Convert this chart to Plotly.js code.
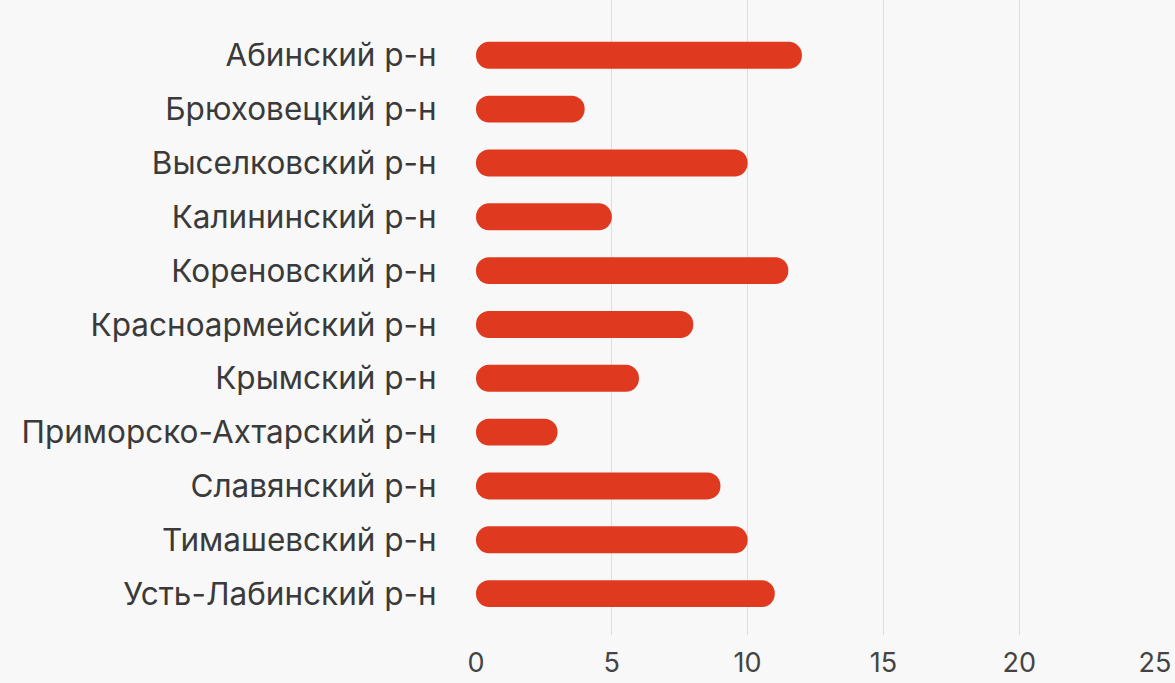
<!DOCTYPE html>
<html>
<head>
<meta charset="utf-8">
<script src="https://cdn.plot.ly/plotly-3.0.1.min.js"></script>
<style>html,body{margin:0;padding:0;background:#f8f8f8;}#chart{width:1175px;height:683px;}</style>
</head>
<body>
<div id="chart"></div>
<script>
const categories = [
  "Абинский р-н",
  "Брюховецкий р-н",
  "Выселковский р-н",
  "Калининский р-н",
  "Кореновский р-н",
  "Красноармейский р-н",
  "Крымский р-н",
  "Приморско-Ахтарский р-н",
  "Славянский р-н",
  "Тимашевский р-н",
  "Усть-Лабинский р-н"
];
const values = [12, 4, 10, 5, 11.5, 8, 6, 3, 9, 10, 11];
const tickValues = [0, 5, 10, 15, 20, 25];

const barColor = "#df3a1f";

const traces = [{
  type: "bar",
  orientation: "h",
  y: categories,
  x: values,
  base: values.map(() => 0),
  width: 0.5,
  marker: {color: barColor, cornerradius: "50%", line: {width: 0}},
  hoverinfo: "skip",
  showlegend: false
}];

const layout = {
  width: 1175,
  height: 683,
  margin: {l: 476, r: 20, t: 0, b: 48},
  paper_bgcolor: "#f8f8f8",
  plot_bgcolor: "#f8f8f8",
  barmode: "overlay",
  font: {family: "Inter, Roboto, sans-serif", color: "#3a3a3a"},
  xaxis: {
    range: [0, 25],
    tickvals: tickValues,
    ticktext: tickValues.map(String),
    showgrid: true,
    gridcolor: "#dedede",
    gridwidth: 1,
    zeroline: false,
    showline: false,
    ticks: "outside",
    ticklen: 4,
    tickcolor: "rgba(0,0,0,0)",
    tickfont: {size: 27, color: "#444"}
  },
  yaxis: {
    type: "category",
    categoryorder: "array",
    categoryarray: categories,
    range: [10.7685, -1.02778],
    showgrid: false,
    zeroline: false,
    showline: false,
    ticks: "outside",
    ticklen: 32,
    tickcolor: "rgba(0,0,0,0)",
    tickfont: {size: 31.5, color: "#3a3a3a"}
  }
};

Plotly.newPlot("chart", traces, layout, {displayModeBar: false, staticPlot: true});
</script>
</body>
</html>
